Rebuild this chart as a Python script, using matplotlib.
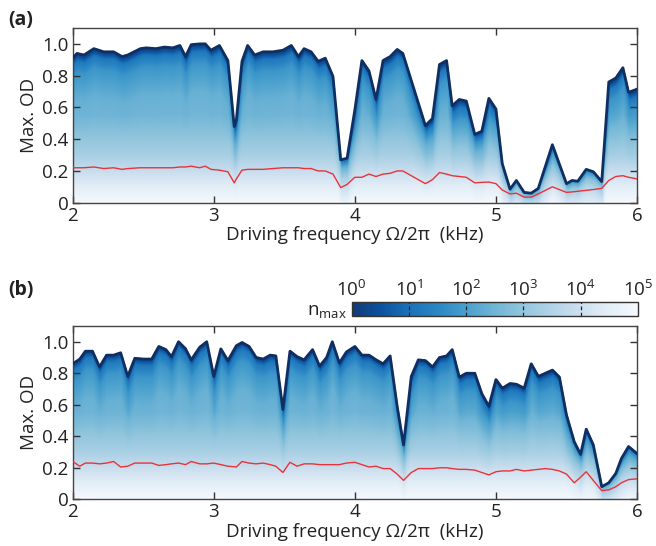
import numpy as np
import matplotlib
matplotlib.use("Agg")
import matplotlib.pyplot as plt
from matplotlib.colors import LinearSegmentedColormap, Normalize
from matplotlib.cm import ScalarMappable

plt.rcParams['font.family'] = ['Open Sans', 'DejaVu Sans']
plt.rcParams['mathtext.default'] = 'regular'

# ---------------- data: panel (a) ----------------
xa = [2.00, 2.03, 2.08, 2.15, 2.22, 2.29, 2.35, 2.39, 2.48, 2.52, 2.59, 2.65, 2.71, 2.76, 2.80,
      2.84, 2.90, 2.94, 2.98, 3.04, 3.10, 3.145, 3.16, 3.20, 3.24, 3.29, 3.35, 3.42, 3.49, 3.55,
      3.60, 3.64, 3.69, 3.74, 3.79, 3.845, 3.90, 3.945, 4.00, 4.05, 4.10, 4.15, 4.20, 4.25, 4.30,
      4.34, 4.50, 4.55, 4.60, 4.65, 4.69, 4.74, 4.79, 4.85, 4.90, 4.95, 5.00, 5.045, 5.10, 5.145,
      5.20, 5.25, 5.30, 5.40, 5.50, 5.54, 5.58, 5.64, 5.69, 5.75, 5.80, 5.85, 5.90, 5.94, 6.00]
od_a = [0.91, 0.94, 0.93, 0.97, 0.95, 0.95, 0.92, 0.93, 0.97, 0.975, 0.97, 0.98, 0.975, 0.99, 0.92,
        0.995, 1.00, 1.00, 0.96, 0.99, 0.895, 0.48, 0.52, 0.89, 0.99, 0.93, 0.95, 0.95, 0.96, 0.99,
        0.92, 0.97, 0.95, 0.89, 0.91, 0.795, 0.27, 0.28, 0.585, 0.895, 0.83, 0.65, 0.895, 0.92, 0.965,
        0.94, 0.485, 0.53, 0.87, 0.895, 0.61, 0.65, 0.64, 0.43, 0.45, 0.657, 0.59, 0.245, 0.085, 0.14,
        0.065, 0.06, 0.09, 0.365, 0.12, 0.14, 0.135, 0.21, 0.195, 0.133, 0.76, 0.785, 0.85, 0.695, 0.715]
red_a = [0.22, 0.22, 0.22, 0.225, 0.215, 0.22, 0.21, 0.215, 0.22, 0.22, 0.22, 0.22, 0.22, 0.225, 0.225,
         0.23, 0.22, 0.23, 0.21, 0.205, 0.195, 0.125, 0.15, 0.205, 0.21, 0.21, 0.21, 0.215, 0.22, 0.22,
         0.22, 0.215, 0.215, 0.20, 0.20, 0.18, 0.095, 0.115, 0.16, 0.16, 0.18, 0.165, 0.18, 0.185, 0.20,
         0.20, 0.12, 0.145, 0.19, 0.18, 0.17, 0.165, 0.16, 0.125, 0.128, 0.13, 0.12, 0.08, 0.055, 0.06,
         0.035, 0.035, 0.055, 0.10, 0.065, 0.068, 0.072, 0.078, 0.083, 0.09, 0.14, 0.165, 0.17, 0.16, 0.15]

# ---------------- data: panel (b) ----------------
xb = [2.00, 2.05, 2.09, 2.14, 2.19, 2.24, 2.29, 2.34, 2.39, 2.44, 2.50, 2.56, 2.61, 2.66, 2.70,
      2.75, 2.80, 2.84, 2.90, 2.95, 3.00, 3.05, 3.10, 3.16, 3.20, 3.25, 3.30, 3.35, 3.40, 3.44,
      3.49, 3.54, 3.59, 3.64, 3.70, 3.75, 3.80, 3.84, 3.89, 3.94, 4.00, 4.05, 4.10, 4.15, 4.20,
      4.25, 4.30, 4.345, 4.40, 4.45, 4.50, 4.55, 4.60, 4.65, 4.69, 4.74, 4.79, 4.85, 4.90, 4.95,
      5.00, 5.045, 5.10, 5.145, 5.20, 5.25, 5.30, 5.35, 5.40, 5.45, 5.50, 5.555, 5.60, 5.64, 5.69,
      5.75, 5.80, 5.85, 5.89, 5.94, 6.00]
od_b = [0.86, 0.89, 0.94, 0.94, 0.84, 0.915, 0.915, 0.93, 0.78, 0.895, 0.89, 0.89, 0.97, 0.95, 0.905,
        1.00, 0.955, 0.885, 0.965, 1.00, 0.78, 0.955, 0.88, 0.975, 0.995, 0.97, 0.90, 0.89, 0.915, 0.91,
        0.57, 0.94, 0.905, 0.885, 0.95, 0.845, 0.90, 1.00, 0.865, 0.935, 0.97, 0.915, 0.915, 0.885, 0.86,
        0.91, 0.59, 0.345, 0.78, 0.885, 0.88, 0.84, 0.90, 0.91, 0.95, 0.775, 0.80, 0.80, 0.67, 0.59,
        0.76, 0.705, 0.735, 0.73, 0.705, 0.86, 0.78, 0.80, 0.82, 0.775, 0.535, 0.365, 0.285, 0.445, 0.345,
        0.08, 0.105, 0.165, 0.26, 0.335, 0.29]
red_b = [0.24, 0.21, 0.23, 0.23, 0.225, 0.23, 0.24, 0.205, 0.21, 0.23, 0.23, 0.23, 0.215, 0.22, 0.225,
         0.23, 0.22, 0.24, 0.225, 0.225, 0.23, 0.22, 0.21, 0.205, 0.24, 0.23, 0.225, 0.23, 0.22, 0.21,
         0.17, 0.235, 0.21, 0.225, 0.225, 0.22, 0.22, 0.22, 0.22, 0.23, 0.235, 0.22, 0.205, 0.21, 0.195,
         0.195, 0.16, 0.12, 0.17, 0.195, 0.195, 0.195, 0.2, 0.2, 0.195, 0.19, 0.19, 0.185, 0.17, 0.155,
         0.175, 0.18, 0.18, 0.19, 0.18, 0.185, 0.19, 0.195, 0.19, 0.18, 0.16, 0.105, 0.14, 0.175, 0.12,
         0.055, 0.06, 0.08, 0.105, 0.125, 0.13]

cbar_ticks = [0, 1, 2, 3, 4, 5]
cbar_labels = ['$10^{0}$', '$10^{1}$', '$10^{2}$', '$10^{3}$', '$10^{4}$', '$10^{5}$']

# ---------------- style ----------------
cmap = LinearSegmentedColormap.from_list('nmax', [
    (0.00, '#123a76'), (0.10, '#0b519e'), (0.20, '#1a72b8'), (0.30, '#2a86c4'),
    (0.40, '#49a0cd'), (0.50, '#70b5d6'), (0.60, '#92c6dd'), (0.70, '#b1d3e7'),
    (0.80, '#cde0ef'), (0.90, '#e3eef7'), (1.00, '#f5f9fd')])
norm = Normalize(0, 5)

# shading profile: depth below the curve top -> log10(n), plus bottom fade
gd = [0.0, 0.02, 0.05, 0.12, 0.30, 0.50, 2.0]
gv = [0.0, 0.5, 1.2, 1.8, 2.4, 2.6, 2.6]
hy = [0.0, 0.10, 0.20, 0.30, 0.45, 0.55, 2.0]
hv = [2.4, 1.9, 1.3, 0.75, 0.25, 0.0, 0.0]

FS = 13.5

fig = plt.figure(figsize=(6.56, 5.46), dpi=100)
W, H = 656.0, 546.0

def make_panel(rect, x, od, red, letter, letter_y):
    ax = fig.add_axes(rect)
    xg = np.linspace(2.0, 6.0, 1400)
    yg = np.linspace(0.0, 1.1, 700)
    M = np.interp(xg, x, od)
    depth = M[None, :] - yg[:, None]
    v = np.interp(depth, gd, gv) + np.interp(yg, hy, hv)[:, None]
    v = np.clip(v, 0, 5)
    v = np.ma.masked_where(depth < 0, v)
    ax.imshow(v, extent=[2.0, 6.0, 0.0, 1.1], origin='lower', aspect='auto',
              cmap=cmap, norm=norm, interpolation='bilinear', zorder=1)
    ax.plot(x, od, color='#0f2f62', lw=2.0, zorder=3, solid_joinstyle='round')
    ax.plot(x, red, color='#e8333a', lw=1.0, zorder=4)
    ax.set_xlim(2.0, 6.0)
    ax.set_ylim(0.0, 1.1)
    ax.set_xticks([2, 3, 4, 5, 6])
    ax.set_xticklabels(['2', '3', '4', '5', '6'])
    ax.set_yticks([0, 0.2, 0.4, 0.6, 0.8, 1.0])
    ax.set_yticklabels(['0', '0.2', '0.4', '0.6', '0.8', '1.0'])
    ax.tick_params(direction='in', length=5, width=1, top=True, right=True,
                   labelsize=FS, colors='#333333', labelcolor='#222222', pad=3)
    for s in ax.spines.values():
        s.set_color('#444444')
        s.set_linewidth(1.0)
    ax.set_xlabel('Driving frequency Ω/2π  (kHz)', fontsize=FS, color='#222222', labelpad=1)
    ax.set_ylabel('Max. OD', fontsize=FS, color='#222222', labelpad=3)
    fig.text(8 / W, 1 - letter_y / H, letter, fontsize=14, fontweight='bold',
             ha='left', va='center', color='#222222')
    return ax

axa = make_panel([72.7 / W, 1 - 202.7 / H, (637 - 72.7) / W, (202.7 - 28) / H],
                 xa, od_a, red_a, '(a)', 20)
axb = make_panel([72.7 / W, 1 - 499.3 / H, (637 - 72.7) / W, (499.3 - 326) / H],
                 xb, od_b, red_b, '(b)', 290)

# colorbar
cax = fig.add_axes([351.7 / W, 1 - 315.7 / H, (637.7 - 351.7) / W, (315.7 - 302.3) / H])
cb = fig.colorbar(ScalarMappable(norm=norm, cmap=cmap), cax=cax, orientation='horizontal')
cb.outline.set_edgecolor('#333333')
cb.outline.set_linewidth(1.0)
cax.xaxis.set_ticks_position('top')
cax.set_xticks(cbar_ticks)
cax.set_xticklabels(cbar_labels)
cax.tick_params(length=0, labelsize=FS, labelcolor='#222222', pad=2)
for k in cbar_ticks[1:-1]:
    cax.axvline(k, color='#222222', lw=0.9, ls=(0, (3, 2)))
fig.text(347 / W, 1 - 311 / H, '$n_{max}$', fontsize=FS, ha='right', va='center', color='#222222')

fig.savefig('out.png', dpi=100)
